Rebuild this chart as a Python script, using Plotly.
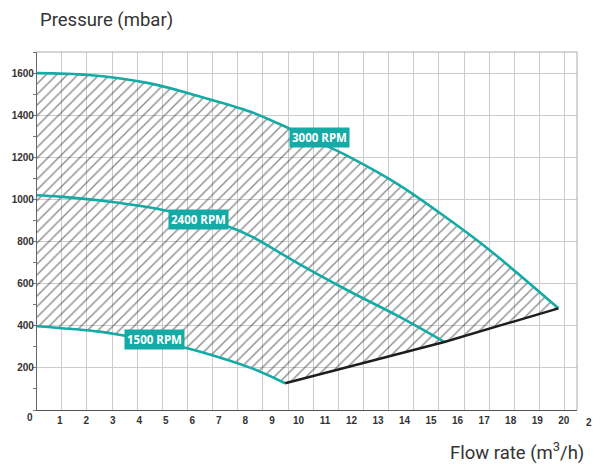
import plotly.graph_objects as go

# ---- data (flow rate m3/h, pressure mbar) ----
flow_3000 = [0, 2.1, 4.4, 6.3, 8.2, 9.7, 11.0, 11.9, 13.8, 15.7, 17.2, 19.8]
pres_3000 = [1600, 1591, 1551, 1488, 1416, 1334, 1258, 1203, 1068, 902, 760, 483]

flow_2400 = [0, 1.0, 2.9, 4.9, 7.4, 8.2, 10.1, 11.9, 13.8, 15.5]
pres_2400 = [1021, 1013, 989, 950, 869, 826, 688, 565, 443, 323]

flow_1500 = [0, 2.5, 3.3, 5.8, 6.3, 8.2, 9.5]
pres_1500 = [399, 372, 356, 293, 277, 200, 127]

# operating limit line joining the curve ends
limit_flow = [flow_1500[-1], flow_2400[-1], flow_3000[-1]]
limit_pres = [pres_1500[-1], pres_2400[-1], pres_3000[-1]]

labels = ["3000 RPM", "2400 RPM", "1500 RPM"]
label_flow = [10.81, 6.23, 4.59]
label_pres = [1292, 907, 335]

TEAL = "#14aaa6"
TXT = "#333333"
TICKFONT = dict(family="Liberation Sans, Arial, sans-serif", size=10, color=TXT, weight="bold")

fig = go.Figure()

# hatched operating area
poly_x = flow_3000 + limit_flow[::-1][1:] + flow_1500[-2::-1]
poly_y = pres_3000 + limit_pres[::-1][1:] + pres_1500[-2::-1]
fig.add_trace(go.Scatter(
    x=poly_x, y=poly_y, mode="lines", fill="toself",
    line=dict(width=0, color="rgba(0,0,0,0)"),
    fillcolor="rgba(0,0,0,0)",
    fillpattern=dict(shape="/", size=7.5, solidity=0.2, fgcolor="#222222",
                     bgcolor="rgba(0,0,0,0)", fillmode="overlay"),
    hoverinfo="skip", showlegend=False))

for fx, py in [(flow_1500, pres_1500), (flow_2400, pres_2400), (flow_3000, pres_3000)]:
    fig.add_trace(go.Scatter(x=fx, y=py, mode="lines",
                             line=dict(color=TEAL, width=2.6, shape="spline", smoothing=1.0),
                             showlegend=False))

fig.add_trace(go.Scatter(x=limit_flow, y=limit_pres, mode="lines",
                         line=dict(color="#1e1e1e", width=2.4), showlegend=False))

annotations = []
for t, lx, ly in zip(labels, label_flow, label_pres):
    annotations.append(dict(x=lx, y=ly, text=t, showarrow=False,
                            font=dict(family="Open Sans, sans-serif", size=11.5, color="white", weight="bold"),
                            bgcolor=TEAL, borderpad=2, xanchor="center", yanchor="middle"))

annotations += [
    dict(xref="paper", yref="paper", x=0.002, y=1.089, text="Pressure (mbar)", showarrow=False,
         xanchor="left", yanchor="middle", font=dict(family="Roboto, sans-serif", size=18.5, color=TXT)),
    dict(xref="paper", yref="paper", x=1.0167, y=-0.117, text="Flow rate (m<sup>3</sup>/h)",
         showarrow=False, xanchor="right", yanchor="middle",
         font=dict(family="Roboto, sans-serif", size=18.5, color=TXT)),
    dict(xref="paper", yref="paper", x=-0.013, y=-0.0223, text="0", showarrow=False,
         xanchor="center", yanchor="middle", font=TICKFONT),
    dict(xref="paper", yref="paper", x=1.0228, y=-0.0363, text="2", showarrow=False,
         xanchor="center", yanchor="middle", font=TICKFONT),
]

fig.update_layout(
    width=600, height=464,
    margin=dict(l=29, r=31, t=44, b=62, autoexpand=False),
    paper_bgcolor="white", plot_bgcolor="white",
    annotations=annotations,
    xaxis=dict(range=[0.145, 20.5], tickmode="linear", tick0=0, dtick=1, automargin=False,
               showgrid=False, zeroline=False, ticks="",
               showline=True, linecolor="#555555", linewidth=1.2,
               tickfont=TICKFONT, ticklabelstandoff=1,
               minor=dict(tick0=0.1338, dtick=0.9476, showgrid=True,
                          gridcolor="#cccccc", gridwidth=1, ticks="")),
    yaxis=dict(range=[0, 1700], tickmode="linear", tick0=0, dtick=200, automargin=False,
               showgrid=True, gridcolor="#cccccc", gridwidth=1, zeroline=False,
               showline=True, linecolor="#666666", linewidth=1.2,
               ticks="outside", ticklen=3, tickcolor="#777777",
               labelalias={0: " "},
               tickfont=TICKFONT, ticklabelstandoff=-3,
               minor=dict(dtick=100, ticks="outside", ticklen=3, tickcolor="#777777")),
    shapes=[
        dict(type="line", xref="paper", yref="paper", x0=0, x1=1, y0=1, y1=1,
             line=dict(color="#aaaaaa", width=1)),
        dict(type="line", xref="paper", yref="paper", x0=1, x1=1, y0=0, y1=1,
             line=dict(color="#aaaaaa", width=1)),
    ],
)

fig.write_html("out.html")
